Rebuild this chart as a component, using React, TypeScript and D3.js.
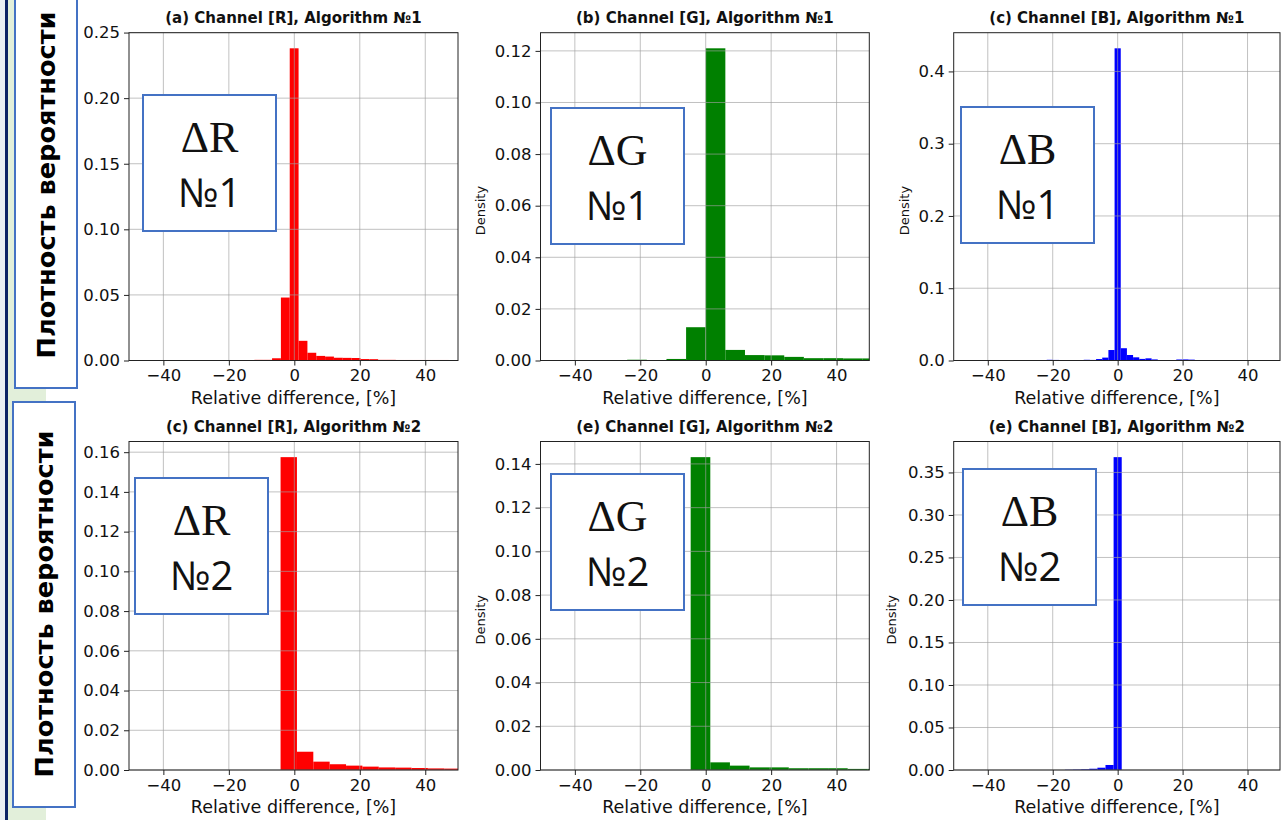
import React, { useEffect, useRef } from 'react'
import * as d3 from 'd3'

// densities per histogram bin
const redAlg1 = [0, 0, 0, 0, 0, 0, 0, 0, 0, 0, 0, 0, 0, 0, 0.0005, 0.0005, 0.0017, 0.048, 0.238, 0.015, 0.0059, 0.0035, 0.003, 0.0021, 0.002, 0.0019, 0.0011, 0.001, 0.0005, 0.0005, 0.0004, 0.0004, 0.0004, 0.0004, 0.0004, 0.0004, 0.0003]
const greenAlg1 = [0, 0, 0, 0, 0, 0.0003, 0.0001, 0.0006, 0.0129, 0.121, 0.0041, 0.0021, 0.002, 0.0014, 0.0009, 0.0009, 0.0008, 0.0008]
const blueAlg1 = [0, 0, 0, 0, 0, 0, 0, 0, 0, 0, 0.0002, 0.0002, 0.0002, 0.0002, 0.0002, 0.001, 0.0008, 0.0002, 0.0002, 0.0002, 0.0006, 0.001, 0.0008, 0.002, 0.004, 0.0145, 0.432, 0.017, 0.0076, 0.0044, 0.0022, 0.003, 0.0015, 0.0003, 0.0003, 0.0003, 0.0014, 0.0015, 0.0012, 0.0002, 0.0002, 0.0002, 0.0002, 0.0002, 0.0002, 0.0002, 0.0002, 0.0002, 0.0002, 0.0002, 0.0002, 0.0002, 0.0002]
const redAlg2 = [0, 0, 0, 0, 0, 0, 0, 0, 0, 0, 0.1575, 0.0092, 0.0042, 0.0029, 0.0022, 0.0017, 0.0013, 0.0012, 0.001, 0.0008, 0.0007, 0.0006]
const greenAlg2 = [0, 0, 0, 0, 0, 0, 0, 0, 0.1431, 0.0035, 0.002, 0.0012, 0.0012, 0.0008, 0.0008, 0.0008, 0.0005, 0.0005]
const blueAlg2 = [0, 0, 0, 0, 0, 0, 0, 0, 0, 0, 0, 0, 0, 0, 0.0003, 0.0005, 0.0008, 0.0015, 0.0027, 0.0059, 0.368, 0, 0, 0, 0, 0, 0, 0, 0, 0, 0, 0, 0, 0, 0, 0, 0, 0, 0, 0, 0, 0]

// first bin edge and bin width, in %
const binStarts = [-50, -54, -50.35, -54.2, -52.6, -51.25]
const binWidths = [2.7, 6, 1.9, 5, 6, 2.5]

const xTicks = [-40, -20, 0, 20, 40]
const xDomain = [-50.5, 50]
const yTicks = [
  [0, 0.05, 0.1, 0.15, 0.2, 0.25],
  [0, 0.02, 0.04, 0.06, 0.08, 0.1, 0.12],
  [0, 0.1, 0.2, 0.3, 0.4],
  [0, 0.02, 0.04, 0.06, 0.08, 0.1, 0.12, 0.14, 0.16],
  [0, 0.02, 0.04, 0.06, 0.08, 0.1, 0.12, 0.14],
  [0, 0.05, 0.1, 0.15, 0.2, 0.25, 0.3, 0.35],
]
const yFormats = ['.2f', '.2f', '.1f', '.2f', '.2f', '.2f']

const titles = [
  '(a) Channel [R], Algorithm №1',
  '(b) Channel [G], Algorithm №1',
  '(c) Channel [B], Algorithm №1',
  '(c) Channel [R], Algorithm №2',
  '(e) Channel [G], Algorithm №2',
  '(e) Channel [B], Algorithm №2',
]
const channelColors = ['#ff0000', '#008000', '#0000ff']
const channelLabels = ['ΔR', 'ΔG', 'ΔB']
const algLabels = ['№1', '№2']
const xLabel = 'Relative difference, [%]'
const yLabel = 'Density'
const sideLabel = 'Плотность вероятности'

const series = [redAlg1, greenAlg1, blueAlg1, redAlg2, greenAlg2, blueAlg2]

const cols = [
  { x0: 129, x1: 458 },
  { x0: 540.5, x1: 869.3 },
  { x0: 953.7, x1: 1280 },
]
const rows = [
  { y0: 32.7, y1: 360.5 },
  { y0: 441.5, y1: 770 },
]
// distance of the "Density" label from the y axis (0 = hidden under the side box)
const yLabelOffsets = [0, 60, 49, 0, 60, 62]
// annotation boxes (top-left corner)
const boxes = [
  [143, 95], [551, 108], [961, 107],
  [135, 478], [551, 474], [963, 469],
]

const FONT = "'DejaVu Sans', sans-serif"

const App = () => {
  const svgRef = useRef(null)

  useEffect(() => {
    const svg = d3.select(svgRef.current)
    svg.selectAll('*').remove()

    // left strip
    svg.append('rect').attr('x', 0).attr('y', 0).attr('width', 46).attr('height', 820).attr('fill', '#e2efda')
    svg.append('rect').attr('x', 0).attr('y', 0).attr('width', 5).attr('height', 820).attr('fill', '#e9eef3')
    svg.append('rect').attr('x', 5).attr('y', 0).attr('width', 3).attr('height', 820).attr('fill', '#0b2265')

    const defs = svg.append('defs')

    series.forEach((vals, i) => {
      const col = cols[i % 3]
      const row = rows[Math.floor(i / 3)]
      const color = channelColors[i % 3]

      const x = d3.scaleLinear().domain(xDomain).range([col.x0, col.x1])
      const y = d3.scaleLinear().domain([0, d3.max(vals) * 1.05]).range([row.y1, row.y0])

      const clipId = `clip-${i}`
      defs.append('clipPath').attr('id', clipId)
        .append('rect')
        .attr('x', col.x0).attr('y', row.y0)
        .attr('width', col.x1 - col.x0).attr('height', row.y1 - row.y0)

      const g = svg.append('g')

      g.append('rect')
        .attr('x', col.x0).attr('y', row.y0)
        .attr('width', col.x1 - col.x0).attr('height', row.y1 - row.y0)
        .attr('fill', 'white')

      // bars
      const bins = vals.map((v, k) => ({
        lo: binStarts[i] + k * binWidths[i],
        hi: binStarts[i] + (k + 1) * binWidths[i],
        v,
      })).filter(b => b.v > 0)

      g.append('g')
        .attr('clip-path', `url(#${clipId})`)
        .selectAll('rect')
        .data(bins)
        .join('rect')
        .attr('x', d => x(d.lo))
        .attr('width', d => x(d.hi) - x(d.lo))
        .attr('y', d => y(d.v))
        .attr('height', d => Math.max(0.6, y(0) - y(d.v)))
        .attr('fill', color)

      // grid (drawn over the bars)
      const grid = g.append('g').attr('stroke', '#a0a0a0').attr('stroke-opacity', 0.65).attr('stroke-width', 1)
      grid.selectAll('line.gx')
        .data(xTicks)
        .join('line')
        .attr('class', 'gx')
        .attr('x1', d => x(d)).attr('x2', d => x(d))
        .attr('y1', row.y0).attr('y2', row.y1)
      grid.selectAll('line.gy')
        .data(yTicks[i])
        .join('line')
        .attr('class', 'gy')
        .attr('x1', col.x0).attr('x2', col.x1)
        .attr('y1', d => y(d)).attr('y2', d => y(d))

      // frame
      g.append('rect')
        .attr('x', col.x0).attr('y', row.y0)
        .attr('width', col.x1 - col.x0).attr('height', row.y1 - row.y0)
        .attr('fill', 'none').attr('stroke', '#222').attr('stroke-width', 1)

      // axes
      const xAxis = g.append('g')
        .attr('transform', `translate(0,${row.y1})`)
        .call(d3.axisBottom(x).tickValues(xTicks).tickSize(5).tickPadding(4).tickFormat(d3.format('d')))
      xAxis.select('.domain').remove()

      const yAxis = g.append('g')
        .attr('transform', `translate(${col.x0},0)`)
        .call(d3.axisLeft(y).tickValues(yTicks[i]).tickSize(5).tickPadding(4).tickFormat(d3.format(yFormats[i])))
      yAxis.select('.domain').remove()

      g.selectAll('.tick text')
        .attr('font-family', FONT)
        .attr('font-size', 16.5)
        .attr('fill', '#111')
      g.selectAll('.tick line').attr('stroke', '#222')

      g.append('text')
        .attr('x', (col.x0 + col.x1) / 2)
        .attr('y', row.y1 + 43)
        .attr('text-anchor', 'middle')
        .attr('font-family', FONT)
        .attr('font-size', 17.5)
        .attr('fill', '#111')
        .text(xLabel)

      if (yLabelOffsets[i] > 0) {
        const cy = (row.y0 + row.y1) / 2 + 14
        g.append('text')
          .attr('transform', `translate(${col.x0 - yLabelOffsets[i]},${cy}) rotate(-90)`)
          .attr('text-anchor', 'middle')
          .attr('dy', '0.35em')
          .attr('font-family', FONT)
          .attr('font-size', 13)
          .attr('fill', '#111')
          .text(yLabel)
      }

      g.append('text')
        .attr('x', (col.x0 + col.x1) / 2)
        .attr('y', row.y0 - 10)
        .attr('text-anchor', 'middle')
        .attr('font-family', FONT)
        .attr('font-weight', 'bold')
        .attr('font-size', 15)
        .attr('fill', '#111')
        .text(titles[i])

      // annotation box
      const [bx, by] = boxes[i]
      const box = svg.append('g')
      box.append('rect')
        .attr('x', bx).attr('y', by).attr('width', 133).attr('height', 136)
        .attr('fill', 'white').attr('stroke', '#4472c4').attr('stroke-width', 2)
      box.append('text')
        .attr('x', bx + 66.5).attr('y', by + 57)
        .attr('text-anchor', 'middle')
        .attr('font-family', "'Liberation Serif', 'DejaVu Serif', serif")
        .attr('font-size', 44)
        .attr('fill', '#111')
        .text(channelLabels[i % 3])
      box.append('text')
        .attr('x', bx + 66.5).attr('y', by + 112)
        .attr('text-anchor', 'middle')
        .attr('font-family', "'Open Sans', 'Noto Sans', sans-serif")
        .attr('font-size', 40)
        .attr('fill', '#111')
        .text(algLabels[Math.floor(i / 3)])
    })

    // side labels
    const sideBoxes = [
      { x: 15, y: -5, w: 62, h: 393 },
      { x: 13, y: 402, w: 62, h: 405 },
    ]
    sideBoxes.forEach((b, k) => {
      svg.append('rect')
        .attr('x', b.x).attr('y', b.y).attr('width', b.w).attr('height', b.h)
        .attr('fill', 'white').attr('stroke', '#4472c4').attr('stroke-width', 2)
      const cy = k === 0 ? 185 : 604
      svg.append('text')
        .attr('transform', `translate(${b.x + b.w / 2},${cy}) rotate(-90)`)
        .attr('text-anchor', 'middle')
        .attr('dy', '0.36em')
        .attr('font-family', FONT)
        .attr('font-weight', 'bold')
        .attr('font-size', 24)
        .attr('textLength', 347)
        .attr('lengthAdjust', 'spacingAndGlyphs')
        .attr('fill', '#000')
        .text(sideLabel)
    })
  }, [])

  return (
    <div style={{ position: 'absolute', left: 0, top: 0, width: 1281, height: 820, background: 'white' }}>
      <svg ref={svgRef} width={1281} height={820}></svg>
    </div>
  )
}

export default App
